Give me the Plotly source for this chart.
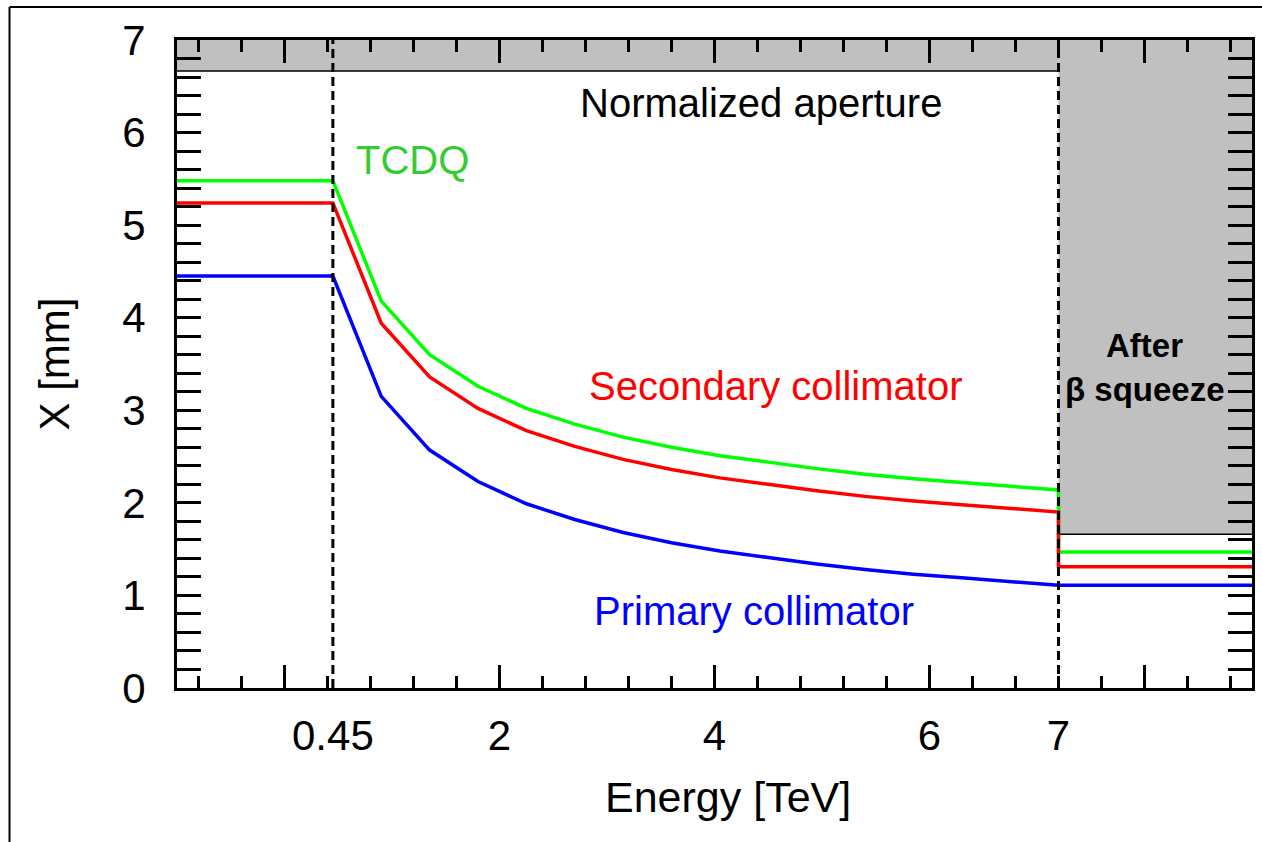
import plotly.graph_objects as go

# ---- data ----
energy_tev = [-1.0, 0.45, 0.9, 1.35, 1.8, 2.25, 2.7, 3.15, 3.6, 4.05, 4.5,
              4.95, 5.4, 5.85, 6.3, 6.75, 7.2, 7.2, 9.0]
primary_mm = [4.45, 4.45, 3.15, 2.57, 2.23, 1.99, 1.82, 1.68, 1.57, 1.48, 1.41,
              1.34, 1.28, 1.23, 1.19, 1.15, 1.11, 1.11, 1.11]
secondary_mm = [5.24, 5.24, 3.94, 3.36, 3.02, 2.78, 2.61, 2.47, 2.36, 2.27, 2.20,
                2.13, 2.07, 2.02, 1.98, 1.94, 1.90, 1.31, 1.31]
tcdq_mm = [5.48, 5.48, 4.18, 3.60, 3.26, 3.02, 2.85, 2.71, 2.60, 2.51, 2.44,
           2.37, 2.31, 2.26, 2.22, 2.18, 2.14, 1.47, 1.47]

aperture_energy = [-1.0, 7.2]
aperture_mm = [6.665, 6.665]
squeeze_energy = [7.2, 9.0]
squeeze_aperture_mm = [1.66, 1.66]

marker_energy = [0.45, 7.2]          # injection / top energy (dashed lines)
x_tick_pos = [0.45, 2, 4, 6, 7.2]
x_tick_text = ["0.45", "2", "4", "6", "7"]

X_RANGE = [-1.0, 9.0]
Y_RANGE = [0.0, 7.0]

FONT = "Liberation Sans, Arial, Helvetica, sans-serif"
GRAY = "#c0c0c0"

fig = go.Figure()

# shaded aperture regions
top = Y_RANGE[1]
fig.add_trace(go.Scatter(
    x=[aperture_energy[0], aperture_energy[1], aperture_energy[1], aperture_energy[0]],
    y=[aperture_mm[0], aperture_mm[1], top, top],
    fill="toself", fillcolor=GRAY, mode="none", hoverinfo="skip", showlegend=False))
fig.add_trace(go.Scatter(
    x=[squeeze_energy[0], squeeze_energy[1], squeeze_energy[1], squeeze_energy[0]],
    y=[squeeze_aperture_mm[0], squeeze_aperture_mm[1], top, top],
    fill="toself", fillcolor=GRAY, mode="none", hoverinfo="skip", showlegend=False))
fig.add_trace(go.Scatter(x=aperture_energy, y=aperture_mm, mode="lines",
                         line=dict(color="black", width=1.5), showlegend=False))
fig.add_trace(go.Scatter(x=squeeze_energy, y=squeeze_aperture_mm, mode="lines",
                         line=dict(color="black", width=1.5), showlegend=False))

# dashed energy markers (on overlay axis that carries the tick labels)
dx, dy = [], []
for e in marker_energy:
    dx += [e, e, None]
    dy += [Y_RANGE[0], Y_RANGE[1], None]
fig.add_trace(go.Scatter(x=dx, y=dy, mode="lines", xaxis="x2",
                         line=dict(color="black", width=3, dash="9px,5px"),
                         showlegend=False))

# collimator settings
fig.add_trace(go.Scatter(x=energy_tev, y=tcdq_mm, mode="lines", name="TCDQ",
                         line=dict(color="#00ff00", width=3.5), showlegend=False))
fig.add_trace(go.Scatter(x=energy_tev, y=secondary_mm, mode="lines", name="Secondary collimator",
                         line=dict(color="#ff0000", width=3.5), showlegend=False))
fig.add_trace(go.Scatter(x=energy_tev, y=primary_mm, mode="lines", name="Primary collimator",
                         line=dict(color="#0000ff", width=3.5), showlegend=False))

# labels
ann = [
    dict(x=4.436, y=6.32, text="Normalized aperture", color="black", size=40),
    dict(x=1.19, y=5.70, text="TCDQ", color="#33cc33", size=40),
    dict(x=4.575, y=3.26, text="Secondary collimator", color="#ff0000", size=40),
    dict(x=4.371, y=0.83, text="Primary collimator", color="#0000ff", size=40),
    dict(x=8.0, y=3.705, text="<b>After</b>", color="black", size=33),
    dict(x=8.0, y=3.22, text="<b>β squeeze</b>", color="black", size=33),
]
for a in ann:
    fig.add_annotation(x=a["x"], y=a["y"], text=a["text"], showarrow=False,
                       xanchor="center", yanchor="middle",
                       font=dict(family=FONT, size=a["size"], color=a["color"]))

# x axis title placed as in the reference
fig.add_annotation(xref="paper", yref="paper", x=0.513, y=-0.168,
                   text="Energy [TeV]", showarrow=False,
                   xanchor="center", yanchor="middle",
                   font=dict(family=FONT, size=43, color="black"))

# outer frame of the picture (left and top edges visible)
fig.add_shape(type="line", xref="paper", yref="paper", x0=-0.1558, x1=-0.1558,
              y0=1.0509, y1=-0.3, line=dict(color="black", width=2))
fig.add_shape(type="line", xref="paper", yref="paper", x0=-0.1558, x1=1.05,
              y0=1.0509, y1=1.0509, line=dict(color="black", width=2))

fig.update_layout(
    width=1262, height=842,
    margin=dict(l=177, r=7, t=40, b=154),
    paper_bgcolor="white", plot_bgcolor="white",
    font=dict(family=FONT, size=42, color="black"),
    showlegend=False,
    xaxis=dict(range=X_RANGE, tickmode="linear", tick0=0, dtick=2,
               ticks="inside", ticklen=23, tickwidth=3, tickcolor="black",
               showticklabels=False, showgrid=False, zeroline=False,
               showline=True, linewidth=3, linecolor="black", mirror="allticks",
               minor=dict(dtick=0.4, tick0=0, ticks="inside", ticklen=12,
                          tickwidth=3, tickcolor="black", showgrid=False)),
    xaxis2=dict(range=X_RANGE, overlaying="x", side="bottom", tickmode="array",
                tickvals=x_tick_pos, ticktext=x_tick_text, ticks="",
                showline=False, showgrid=False, zeroline=False,
                tickfont=dict(size=42), ticklabelstandoff=19),
    yaxis=dict(range=Y_RANGE, tickmode="linear", tick0=0, dtick=1,
               ticks="inside", ticklen=24, tickwidth=3, tickcolor="black",
               showgrid=False, zeroline=False, tickfont=dict(size=42),
               showline=True, linewidth=3, linecolor="black", mirror="allticks",
               ticklabelstandoff=20,
               minor=dict(dtick=0.2, tick0=0, ticks="inside", ticklen=12,
                          tickwidth=3, tickcolor="black", showgrid=False),
               title=dict(text="X [mm]", font=dict(size=42), standoff=40)),
)

fig.write_html("out.html")
